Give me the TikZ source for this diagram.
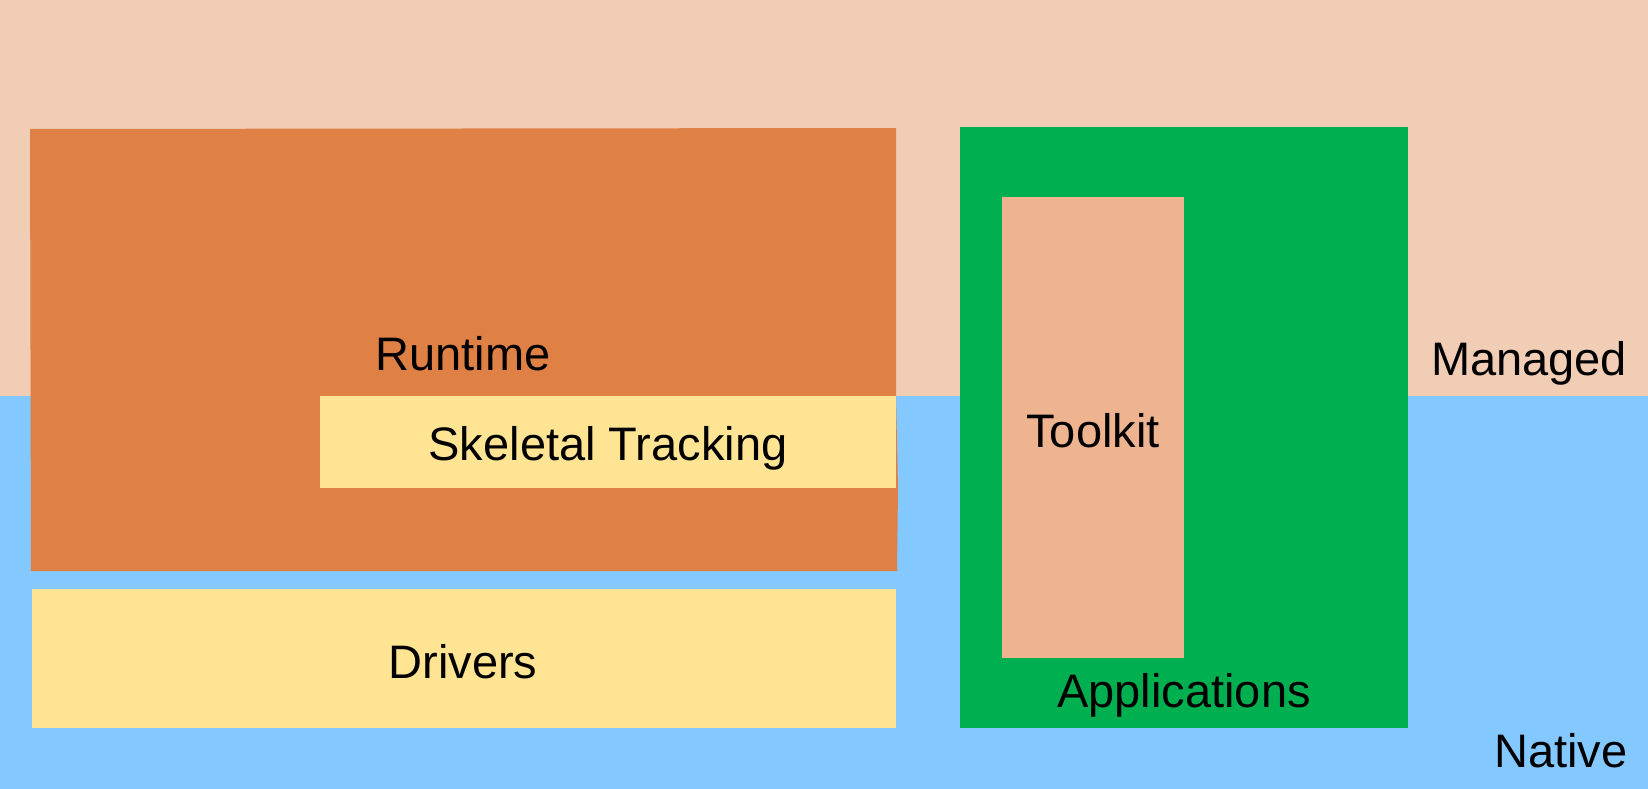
\documentclass[tikz,border=0pt]{standalone}
\usepackage{fontspec}
\setmainfont{Liberation Sans}
\definecolor{managedbg}{HTML}{F2CDB5}
\definecolor{nativebg}{HTML}{83C8FF}
\definecolor{runtimeor}{HTML}{DF8045}
\definecolor{yellowbox}{HTML}{FFE494}
\definecolor{appgreen}{HTML}{00AF50}
\definecolor{toolkitc}{HTML}{EDB48F}
\begin{document}
\begin{tikzpicture}[x=1pt,y=-1pt,
  lbl/.style={inner sep=0pt,anchor=base,font=\fontsize{47}{56}\selectfont},
  box/.style={draw=none,inner sep=0pt,anchor=north west}]
\useasboundingbox (0,0) rectangle (1648,789);
% bands
\fill[managedbg] (0,0) rectangle (1648,396);
\fill[nativebg] (0,396) rectangle (1648,789);
% runtime
\fill[runtimeor] (30,129) -- (896,128) -- (896,396) -- (898,488) -- (897,571) -- (31,571) -- cycle;
\coordinate (runtime) at (463,370);
\node[lbl] (runtimelbl) at (runtime) {Runtime};
% skeletal tracking
\node[box,fill=yellowbox,minimum width=576pt,minimum height=92pt] (skel) at (320,396) {};
\node[lbl] (skellbl) at (608,460) {Skeletal Tracking};
% drivers
\node[box,fill=yellowbox,minimum width=864pt,minimum height=139pt] (drivers) at (31.5,588.5) {};
\node[lbl] (driverslbl) at (463,678) {Drivers};
% applications
\node[box,fill=appgreen,minimum width=448pt,minimum height=601pt] (apps) at (960,127) {};
\node[lbl] (appslbl) at (1184,707) {Applications};
% toolkit
\node[box,fill=toolkitc,minimum width=182pt,minimum height=461pt] (toolkit) at (1002,197) {};
\node[lbl] (toolkitlbl) at (1093,447) {Toolkit};
% layer labels
\node[lbl] (managed) at (1529,375) {Managed};
\node[lbl] (native) at (1561,767) {Native};
\end{tikzpicture}
\end{document}
